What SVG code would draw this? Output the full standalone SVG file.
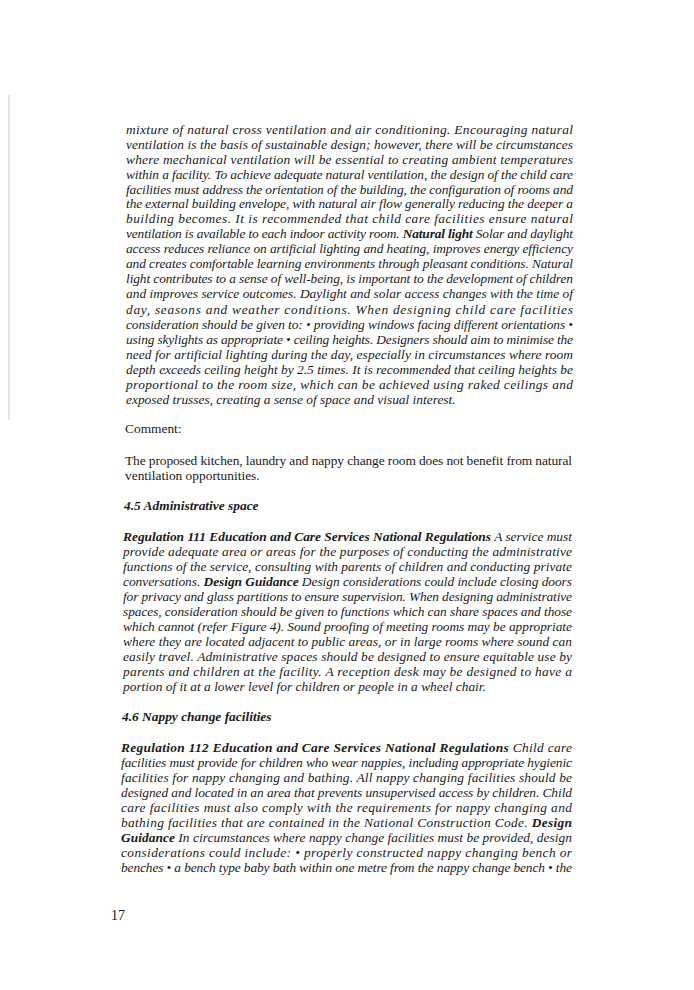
<svg xmlns="http://www.w3.org/2000/svg" width="694" height="990" viewBox="0 0 694 990">
<style>
text{font-family:"Liberation Serif","Times New Roman",serif;font-size:13.4px;fill:#1a1a1a}
.i{font-style:italic}
.b{font-weight:bold}
.j{}
</style>
<rect width="694" height="990" fill="#fff"/>
<line x1="9" y1="95" x2="9" y2="420" stroke="#ccc" stroke-width="1"/>
<g id="para1" class="i">
<text class="i" x="126" y="134" textLength="447" lengthAdjust="spacing">mixture of natural cross ventilation and air conditioning. Encouraging natural</text>
<text class="i" x="126" y="149" textLength="447" lengthAdjust="spacing">ventilation is the basis of sustainable design; however, there will be circumstances</text>
<text class="i" x="126" y="164" textLength="447" lengthAdjust="spacing">where mechanical ventilation will be essential to creating ambient temperatures</text>
<text class="i" x="126" y="179" textLength="447" lengthAdjust="spacing">within a facility. To achieve adequate natural ventilation, the design of the child care</text>
<text class="i" x="126" y="194" textLength="447" lengthAdjust="spacing">facilities must address the orientation of the building, the configuration of rooms and</text>
<text class="i" x="126" y="208" textLength="447" lengthAdjust="spacing">the external building envelope, with natural air flow generally reducing the deeper a</text>
<text class="i" x="126" y="223" textLength="447" lengthAdjust="spacing">building becomes. It is recommended that child care facilities ensure natural</text>
<text class="i" x="126" y="238" textLength="447" lengthAdjust="spacing">ventilation is available to each indoor activity room. <tspan class="b">Natural light</tspan> Solar and daylight</text>
<text class="i" x="126" y="253" textLength="447" lengthAdjust="spacing">access reduces reliance on artificial lighting and heating, improves energy efficiency</text>
<text class="i" x="126" y="268" textLength="447" lengthAdjust="spacing">and creates comfortable learning environments through pleasant conditions. Natural</text>
<text class="i" x="126" y="283" textLength="447" lengthAdjust="spacing">light contributes to a sense of well-being, is important to the development of children</text>
<text class="i" x="126" y="298" textLength="447" lengthAdjust="spacing">and improves service outcomes. Daylight and solar access changes with the time of</text>
<text class="i" x="126" y="314" textLength="447" lengthAdjust="spacing">day, seasons and weather conditions. When designing child care facilities</text>
<text class="i" x="126" y="329" textLength="447" lengthAdjust="spacing">consideration should be given to: • providing windows facing different orientations •</text>
<text class="i" x="126" y="344" textLength="447" lengthAdjust="spacing">using skylights as appropriate • ceiling heights. Designers should aim to minimise the</text>
<text class="i" x="126" y="359" textLength="447" lengthAdjust="spacing">need for artificial lighting during the day, especially in circumstances where room</text>
<text class="i" x="126" y="374" textLength="447" lengthAdjust="spacing">depth exceeds ceiling height by 2.5 times. It is recommended that ceiling heights be</text>
<text class="i" x="126" y="389" textLength="447" lengthAdjust="spacing">proportional to the room size, which can be achieved using raked ceilings and</text>
<text class="i" x="126" y="404">exposed trusses, creating a sense of space and visual interest.</text>
</g>
<g id="comment">
<text x="125" y="433">Comment:</text>
<text x="125" y="465" textLength="447" lengthAdjust="spacing">The proposed kitchen, laundry and nappy change room does not benefit from natural</text>
<text x="125" y="480">ventilation opportunities.</text>
</g>
<g id="section45">
<text class="i b" x="124" y="510">4.5 Administrative space</text>
<text class="i" x="123" y="541" textLength="449" lengthAdjust="spacing"><tspan class="b">Regulation 111 Education and Care Services National Regulations</tspan> A service must</text>
<text class="i" x="123" y="556" textLength="449" lengthAdjust="spacing">provide adequate area or areas for the purposes of conducting the administrative</text>
<text class="i" x="123" y="571" textLength="449" lengthAdjust="spacing">functions of the service, consulting with parents of children and conducting private</text>
<text class="i" x="123" y="586" textLength="449" lengthAdjust="spacing">conversations. <tspan class="b">Design Guidance</tspan> Design considerations could include closing doors</text>
<text class="i" x="123" y="601" textLength="449" lengthAdjust="spacing">for privacy and glass partitions to ensure supervision. When designing administrative</text>
<text class="i" x="123" y="616" textLength="449" lengthAdjust="spacing">spaces, consideration should be given to functions which can share spaces and those</text>
<text class="i" x="123" y="631" textLength="449" lengthAdjust="spacing">which cannot (refer Figure 4). Sound proofing of meeting rooms may be appropriate</text>
<text class="i" x="123" y="646" textLength="449" lengthAdjust="spacing">where they are located adjacent to public areas, or in large rooms where sound can</text>
<text class="i" x="123" y="661" textLength="449" lengthAdjust="spacing">easily travel. Administrative spaces should be designed to ensure equitable use by</text>
<text class="i" x="123" y="676" textLength="449" lengthAdjust="spacing">parents and children at the facility. A reception desk may be designed to have a</text>
<text class="i" x="123" y="691">portion of it at a lower level for children or people in a wheel chair.</text>
</g>
<g id="section46">
<text class="i b" x="122" y="721">4.6 Nappy change facilities</text>
<text class="i" x="121" y="752" textLength="451" lengthAdjust="spacing"><tspan class="b">Regulation 112 Education and Care Services National Regulations</tspan> Child care</text>
<text class="i" x="121" y="767" textLength="451" lengthAdjust="spacing">facilities must provide for children who wear nappies, including appropriate hygienic</text>
<text class="i" x="121" y="782" textLength="451" lengthAdjust="spacing">facilities for nappy changing and bathing. All nappy changing facilities should be</text>
<text class="i" x="121" y="797" textLength="451" lengthAdjust="spacing">designed and located in an area that prevents unsupervised access by children. Child</text>
<text class="i" x="121" y="812" textLength="451" lengthAdjust="spacing">care facilities must also comply with the requirements for nappy changing and</text>
<text class="i" x="121" y="827" textLength="451" lengthAdjust="spacing">bathing facilities that are contained in the National Construction Code. <tspan class="b">Design</tspan></text>
<text class="i" x="121" y="842" textLength="451" lengthAdjust="spacing"><tspan class="b">Guidance</tspan> In circumstances where nappy change facilities must be provided, design</text>
<text class="i" x="121" y="857" textLength="451" lengthAdjust="spacing">considerations could include: • properly constructed nappy changing bench or</text>
<text class="i" x="121" y="872" textLength="451" lengthAdjust="spacing">benches • a bench type baby bath within one metre from the nappy change bench • the</text>
</g>
<g id="pagenum">
<text x="111" y="920" style="font-size:14px">17</text>
</g>
</svg>
